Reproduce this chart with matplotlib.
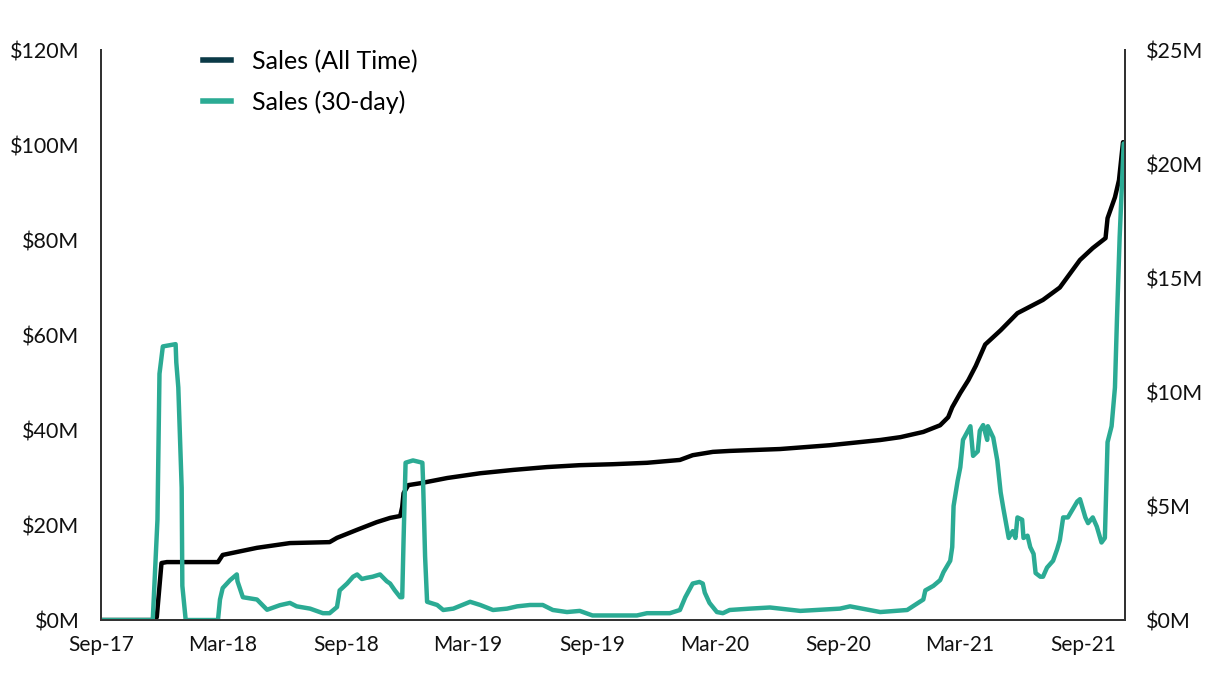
import pandas as pd
import matplotlib
matplotlib.use("Agg")
import matplotlib.pyplot as plt
import matplotlib.dates as mdates
from matplotlib.lines import Line2D
from matplotlib.ticker import FuncFormatter

plt.rcParams['font.family'] = ['Lato', 'DejaVu Sans']

# Sales (All Time), cumulative, $M - left axis
all_time_dates = [
    '2017-09-01', '2017-11-20', '2017-11-23', '2017-11-30', '2017-12-08', '2018-02-22',
    '2018-03-01', '2018-04-21', '2018-06-09', '2018-08-07', '2018-08-18', '2018-09-17',
    '2018-10-16', '2018-11-05', '2018-11-20', '2018-11-23', '2018-11-25', '2018-12-02',
    '2018-12-20', '2019-01-29', '2019-03-19', '2019-05-07', '2019-06-26', '2019-08-14',
    '2019-10-02', '2019-11-22', '2020-01-10', '2020-01-29', '2020-02-28', '2020-03-24',
    '2020-06-07', '2020-08-20', '2020-11-03', '2020-12-03', '2021-01-06', '2021-01-31',
    '2021-02-12', '2021-02-18', '2021-03-02', '2021-03-14', '2021-03-25', '2021-04-08',
    '2021-05-01', '2021-05-26', '2021-07-03', '2021-07-28', '2021-08-27', '2021-09-15',
    '2021-10-04', '2021-10-07', '2021-10-18', '2021-10-24', '2021-10-30',
]
all_time_sales = [
    0, 0, 0.6, 12.0, 12.2, 12.2,
    13.7, 15.2, 16.2, 16.4, 17.3, 19.0,
    20.6, 21.5, 21.9, 23.8, 26.7, 28.4,
    28.8, 29.9, 30.9, 31.6, 32.2, 32.6,
    32.8, 33.1, 33.7, 34.7, 35.4, 35.6,
    36.0, 36.8, 37.9, 38.5, 39.6, 41.0,
    42.7, 44.8, 47.8, 50.5, 53.5, 58.0,
    61.0, 64.6, 67.4, 70.0, 75.8, 78.3,
    80.4, 84.6, 89.0, 92.6, 100.6,
]

# Sales (30-day), $M - right axis
day30_dates = [
    '2017-09-01', '2017-11-17', '2017-11-24', '2017-11-27', '2017-12-02', '2017-12-21',
    '2017-12-22', '2017-12-25', '2017-12-30', '2017-12-31', '2018-01-05', '2018-02-22',
    '2018-02-25', '2018-03-01', '2018-03-12', '2018-03-22', '2018-03-23', '2018-03-31',
    '2018-04-21', '2018-05-06', '2018-05-25', '2018-06-09', '2018-06-19', '2018-07-09',
    '2018-07-28', '2018-08-07', '2018-08-18', '2018-08-22', '2018-09-02', '2018-09-11',
    '2018-09-17', '2018-09-24', '2018-10-01', '2018-10-10', '2018-10-21', '2018-10-31',
    '2018-11-05', '2018-11-12', '2018-11-20', '2018-11-23', '2018-11-25', '2018-11-28',
    '2018-12-09', '2018-12-23', '2018-12-24', '2018-12-27', '2018-12-30', '2019-01-14',
    '2019-01-23', '2019-02-07', '2019-03-04', '2019-03-19', '2019-04-07', '2019-04-28',
    '2019-05-13', '2019-06-01', '2019-06-20', '2019-07-05', '2019-07-26', '2019-08-14',
    '2019-09-02', '2019-11-07', '2019-11-22', '2019-12-26', '2020-01-10', '2020-01-18',
    '2020-01-29', '2020-02-08', '2020-02-13', '2020-02-16', '2020-02-23', '2020-03-05',
    '2020-03-14', '2020-03-24', '2020-04-23', '2020-05-23', '2020-07-07', '2020-09-04',
    '2020-09-19', '2020-11-03', '2020-12-13', '2021-01-06', '2021-01-09', '2021-01-21',
    '2021-01-31', '2021-02-05', '2021-02-15', '2021-02-18', '2021-02-20', '2021-02-26',
    '2021-03-02', '2021-03-06', '2021-03-17', '2021-03-21', '2021-03-28', '2021-03-31',
    '2021-04-05', '2021-04-11', '2021-04-12', '2021-04-20', '2021-04-26', '2021-05-01',
    '2021-05-05', '2021-05-13', '2021-05-19', '2021-05-23', '2021-05-26', '2021-06-02',
    '2021-06-04', '2021-06-10', '2021-06-14', '2021-06-19', '2021-06-22', '2021-06-29',
    '2021-07-03', '2021-07-09', '2021-07-18', '2021-07-24', '2021-07-28', '2021-08-02',
    '2021-08-09', '2021-08-15', '2021-08-23', '2021-08-27', '2021-09-04', '2021-09-08',
    '2021-09-15', '2021-09-21', '2021-09-28', '2021-10-03', '2021-10-07', '2021-10-13',
    '2021-10-18', '2021-10-21', '2021-10-25', '2021-10-31',
]
day30_sales = [
    0, 0, 4.4, 10.8, 12.0, 12.1,
    11.3, 10.2, 5.8, 1.5, 0, 0,
    0.9, 1.4, 1.75, 2.0, 1.7, 1.0,
    0.9, 0.45, 0.65, 0.75, 0.6, 0.5,
    0.3, 0.3, 0.57, 1.3, 1.6, 1.9,
    2.0, 1.8, 1.85, 1.9, 2.0, 1.7,
    1.6, 1.3, 1.0, 1.0, 3.5, 6.9,
    7.0, 6.9, 6.1, 2.8, 0.8, 0.66,
    0.44, 0.5, 0.8, 0.66, 0.44, 0.5,
    0.6, 0.66, 0.66, 0.44, 0.35, 0.4,
    0.2, 0.2, 0.3, 0.3, 0.44, 1.0,
    1.6, 1.67, 1.6, 1.2, 0.75, 0.35,
    0.3, 0.44, 0.5, 0.55, 0.4, 0.5,
    0.6, 0.35, 0.44, 0.9, 1.3, 1.5,
    1.75, 2.1, 2.6, 3.2, 5.0, 6.1,
    6.7, 7.9, 8.5, 7.2, 7.4, 8.3,
    8.55, 7.9, 8.5, 8.0, 7.0, 5.6,
    4.9, 3.6, 3.9, 3.6, 4.5, 4.4,
    3.6, 3.7, 3.2, 2.9, 2.06, 1.9,
    1.9, 2.3, 2.6, 3.1, 3.5, 4.5,
    4.5, 4.8, 5.2, 5.3, 4.5, 4.25,
    4.5, 4.1, 3.4, 3.6, 7.8, 8.5,
    10.2, 13.2, 16.8, 20.9,
]

tick_dates = ['2017-09-01', '2018-03-01', '2018-09-01', '2019-03-01', '2019-09-01',
              '2020-03-01', '2020-09-01', '2021-03-01', '2021-09-01']

black = '#000000'
green = '#2bab94'
navy = '#0b3a47'
spine_col = '#333333'

fig = plt.figure(figsize=(12.27, 6.76), dpi=100)
ax = fig.add_axes([0.0823, 0.0828, 0.8346, 0.8432])
ax2 = ax.twinx()

ax.plot(pd.to_datetime(all_time_dates), all_time_sales, color=black, lw=3.2,
        solid_joinstyle='round', solid_capstyle='round')
ax2.plot(pd.to_datetime(day30_dates), day30_sales, color=green, lw=3.2,
         solid_joinstyle='round', solid_capstyle='round')

ax.set_xlim(pd.Timestamp('2017-09-01'), pd.Timestamp('2021-11-02'))
ax.set_ylim(0, 120)
ax2.set_ylim(0, 25)
ax.set_yticks(range(0, 121, 20))
ax2.set_yticks(range(0, 26, 5))
ax.yaxis.set_major_formatter(FuncFormatter(lambda v, p: f'${v:.0f}M'))
ax2.yaxis.set_major_formatter(FuncFormatter(lambda v, p: f'${v:.0f}M'))
ax.set_xticks(pd.to_datetime(tick_dates))
ax.xaxis.set_major_formatter(mdates.DateFormatter('%b-%y'))

for a in (ax, ax2):
    a.spines['top'].set_visible(False)
    for s in ('left', 'right', 'bottom'):
        a.spines[s].set_color(spine_col)
        a.spines[s].set_linewidth(1.4)
    a.tick_params(length=0, labelsize=15, colors='#111111')
ax.tick_params(axis='x', pad=11)
ax.tick_params(axis='y', pad=15.5, labelsize=15.5)
ax2.tick_params(axis='y', pad=15, labelsize=15.5)

handles = [Line2D([0], [0], color=navy, lw=4),
           Line2D([0], [0], color=green, lw=4)]
ax2.legend(handles, ['Sales (All Time)', 'Sales (30-day)'],
           loc='upper left', bbox_to_anchor=(0.078, 1.04), frameon=False,
           fontsize=18, handlelength=1.1, handletextpad=0.85, labelspacing=0.68)

fig.savefig('out.png', dpi=100)
